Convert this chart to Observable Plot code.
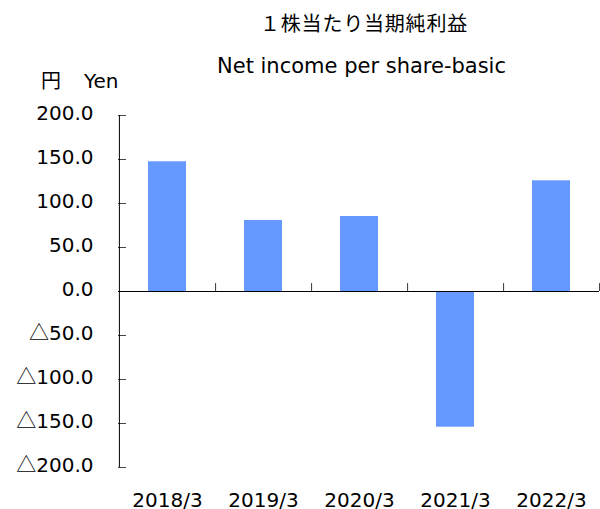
<!DOCTYPE html>
<html>
<head>
<meta charset="utf-8">
<script src="https://cdn.jsdelivr.net/npm/d3@7"></script>
<script src="https://cdn.jsdelivr.net/npm/@observablehq/plot@0.6"></script>
<style>
  body { margin: 0; background: #fff; }
  #wrap { width: 600px; font-family: "DejaVu Sans", "Noto Sans CJK JP", sans-serif; color: #000; }
  #head { position: relative; height: 95px; }
  #head div { position: absolute; white-space: nowrap; line-height: 1; }
  .jp { font-family: "Noto Sans CJK JP", "DejaVu Sans", sans-serif; }
</style>
</head>
<body>
<div id="wrap">
  <div id="head">
    <div class="jp" style="left:0;width:728px;text-align:center;top:13px;font-size:20px;letter-spacing:0.8px;">１株当たり当期純利益</div>
    <div style="left:0;width:723px;text-align:center;top:56px;font-size:21px;">Net income per share-basic</div>
    <div style="left:41px;top:70px;font-size:20px;"><span class="jp">円</span><span class="jp" style="display:inline-block;width:23px"></span>Yen</div>
  </div>
  <div id="chart"></div>
</div>
<script>
const categories = ["2018/3", "2019/3", "2020/3", "2021/3", "2022/3"];
const values = [147.4, 80.7, 85.2, -154.2, 125.8];
const yTicks = [-200, -150, -100, -50, 0, 50, 100, 150, 200];

const data = categories.map((c, i) => ({cat: c, v: values[i]}));
const W = 600, mL = 118, mR = 1;
const bw = (W - mL - mR) / categories.length;
const fmt = d => d < 0 ? "△" + (-d).toFixed(1) : d.toFixed(1);

const chart = Plot.plot({
  width: W,
  height: 414,
  marginLeft: mL,
  marginRight: mR,
  marginTop: 20,
  marginBottom: 42,
  style: {fontFamily: "'DejaVu Sans', 'Noto Sans CJK JP', sans-serif", fontSize: "20px", color: "#000", background: "#fff"},
  x: {domain: categories, padding: 0, label: null},
  y: {domain: [-200, 200], label: null},
  marks: [
    Plot.barY(data, {x: "cat", y: "v", fill: "#6699ff", insetLeft: 29, insetRight: 29}),
    Plot.axisY(yTicks, {anchor: "left", tickSize: 0, tickPadding: 25, dy: -2, tickFormat: fmt, fontSize: 20, fill: "#000"}),
    Plot.axisY(yTicks, {anchor: "left", tickSize: -8, text: null, stroke: "#444"}),
    Plot.axisX({anchor: "bottom", tickSize: 0, tickPadding: 25, fontSize: 20, fill: "#000"}),
    Plot.ruleX([categories[0]], {x: d => d, y1: -200, y2: 200, dx: -bw / 2, stroke: "#000"}),
    Plot.ruleX(categories, {x: d => d, y1: 0, y2: 9, dx: bw / 2, stroke: "#333"}),
    Plot.ruleY([0], {stroke: "#000"})
  ]
});
// render the △ mark with a full-width CJK glyph, as in the original
chart.querySelectorAll("text").forEach(t => {
  const s = t.textContent;
  if (s.startsWith("△")) {
    t.textContent = "";
    const ts = document.createElementNS("http://www.w3.org/2000/svg", "tspan");
    ts.setAttribute("font-family", "Noto Sans CJK JP");
    ts.textContent = "△";
    t.appendChild(ts);
    t.appendChild(document.createTextNode(s.slice(1)));
  }
});
document.getElementById("chart").appendChild(chart);
</script>
</body>
</html>
